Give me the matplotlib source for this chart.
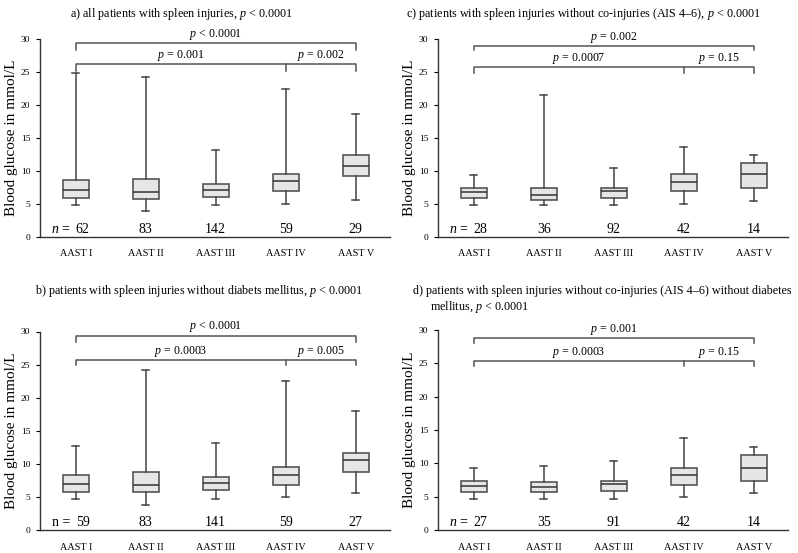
import matplotlib
matplotlib.use('Agg')
import matplotlib.pyplot as plt

plt.rcParams['font.family'] = ['Liberation Serif', 'DejaVu Serif']
plt.rcParams['mathtext.fontset'] = 'custom'
plt.rcParams['mathtext.rm'] = 'Liberation Serif'
plt.rcParams['mathtext.it'] = 'Liberation Serif:italic'

groups = ['AAST I', 'AAST II', 'AAST III', 'AAST IV', 'AAST V']

# five-number summaries per group: whisker low, Q1, median, Q3, whisker high
stats_a = [(4.85, 5.92, 7.14, 8.67, 24.9), (3.93, 5.82, 6.89, 8.83, 24.3),
           (4.85, 6.07, 7.14, 8.06, 13.2), (5.05, 7.0, 8.47, 9.6, 22.5),
           (5.6, 9.29, 10.82, 12.5, 18.6)]
stats_b = [(4.7, 5.8, 6.95, 8.25, 12.65), (3.85, 5.7, 6.85, 8.75, 24.2),
           (4.7, 6.0, 7.1, 8.0, 13.1), (4.95, 6.85, 8.3, 9.55, 22.5),
           (5.55, 8.8, 10.55, 11.6, 18.0)]
stats_c = [(4.8, 5.87, 6.79, 7.5, 9.45), (4.8, 5.61, 6.43, 7.5, 21.5),
           (4.8, 5.97, 6.94, 7.5, 10.4), (5.05, 6.94, 8.32, 9.49, 13.7),
           (5.5, 7.5, 9.49, 11.2, 12.45)]
stats_d = [(4.7, 5.76, 6.57, 7.37, 9.34), (4.7, 5.66, 6.46, 7.27, 9.6),
           (4.7, 5.81, 6.87, 7.37, 10.3), (4.95, 6.82, 8.23, 9.34, 13.8),
           (5.56, 7.37, 9.34, 11.26, 12.47)]

n_a = [62, 83, 142, 59, 29]
n_b = [59, 83, 141, 59, 27]
n_c = [28, 36, 92, 42, 14]
n_d = [27, 35, 91, 42, 14]

p_a = ['$p$ < 0.0001', '$p$ = 0.001', '$p$ = 0.002']
p_b = ['$p$ < 0.0001', '$p$ = 0.0003', '$p$ = 0.005']
p_c = ['$p$ = 0.002', '$p$ = 0.0007', '$p$ = 0.15']
p_d = ['$p$ = 0.001', '$p$ = 0.0003', '$p$ = 0.15']

# bracket levels (top line, tick end, second line, tick end)
lev_a = (29.35, 28.35, 26.2, 25.2)
lev_b = (29.35, 28.45, 25.7, 24.9)
lev_c = (28.95, 28.3, 25.7, 24.9)
lev_d = (28.8, 28.1, 25.3, 24.6)

EDGE = '#555555'

fig = plt.figure(figsize=(7.98, 5.53), dpi=100)


def panel(rect, stats, ns, pvals, lev, n_italic=True):
    ax = fig.add_axes(rect)
    pos = range(1, 6)
    bx = [dict(whislo=s[0], q1=s[1], med=s[2], q3=s[3], whishi=s[4], label=g)
          for s, g in zip(stats, groups)]
    ax.bxp(bx, positions=pos, widths=0.37, showfliers=False, patch_artist=True,
           boxprops=dict(facecolor='#e6e6e6', edgecolor=EDGE, linewidth=1.2),
           medianprops=dict(color='#333333', linewidth=1.1),
           whiskerprops=dict(color='#444444', linewidth=1.1),
           capprops=dict(color='#444444', linewidth=1.1), capwidths=0.1)
    ax.set_xlim(0.49, 5.49)
    ax.set_ylim(0, 30)
    ax.set_yticks(range(0, 31, 5))
    ax.spines['top'].set_visible(False)
    ax.spines['right'].set_visible(False)
    for sp in ('left', 'bottom'):
        ax.spines[sp].set_color('#333333')
        ax.spines[sp].set_linewidth(1.0)
    ax.tick_params(axis='x', length=0, pad=9, labelsize=7.3)
    ax.tick_params(axis='y', length=3, width=0.8, pad=4, labelsize=6.8)
    ax.set_ylabel('Blood glucose in mmol/L', fontsize=11)
    ax.yaxis.set_label_coords(-0.063, 0.5)

    # n labels
    for i, n in enumerate(ns):
        dx = 0.1 if i == 0 else 0
        ax.text(i + 1 + dx, 1.2, str(n), ha='center', va='center', fontsize=10)
    ax.text(0.93, 1.2, '$n$ =' if n_italic else 'n =', ha='right', va='center',
            fontsize=10)

    # significance brackets
    t1, t1e, t2, t2e = lev
    kw = dict(color='#555555', linewidth=1.1, clip_on=False)
    ax.plot([1, 1, 5, 5], [t1e, t1, t1, t1e], **kw)
    ax.plot([1, 1, 4, 4], [t2e, t2, t2, t2e], **kw)
    ax.plot([4, 5, 5], [t2, t2, t2e], **kw)
    ax.text(3, t1 + 0.2, pvals[0], ha='center', va='bottom', fontsize=8.6)
    ax.text(2.5, t2 + 0.2, pvals[1], ha='center', va='bottom', fontsize=8.6)
    ax.text(4.5, t2 + 0.2, pvals[2], ha='center', va='bottom', fontsize=8.6)
    return ax


panel([40 / 798, 1 - 237 / 553, 350 / 798, 198 / 553], stats_a, n_a, p_a, lev_a)
panel([438 / 798, 1 - 237 / 553, 350 / 798, 198 / 553], stats_c, n_c, p_c, lev_c)
panel([40 / 798, 1 - 530 / 553, 350 / 798, 198.5 / 553], stats_b, n_b, p_b, lev_b,
      n_italic=False)
panel([438 / 798, 1 - 530 / 553, 350 / 798, 200 / 553], stats_d, n_d, p_d, lev_d)

tk = dict(fontsize=8.7, va='center', ha='left')
fig.text(70 / 798, 1 - 14 / 553, 'a) all patients with spleen injuries, $p$ < 0.0001', **tk)
fig.text(406 / 798, 1 - 14 / 553,
         'c) patients with spleen injuries without co-injuries (AIS 4\u20136), $p$ < 0.0001', **tk)
fig.text(35 / 798, 1 - 291 / 553,
         'b) patients with spleen injuries without diabets mellitus, $p$ < 0.0001', **tk)
fig.text(413 / 798, 1 - 291 / 553,
         'd) patients with spleen injuries without co-injuries (AIS 4\u20136) without diabetes', **tk)
fig.text(430 / 798, 1 - 307 / 553, 'mellitus, $p$ < 0.0001', **tk)

fig.savefig('out.png', dpi=100)
